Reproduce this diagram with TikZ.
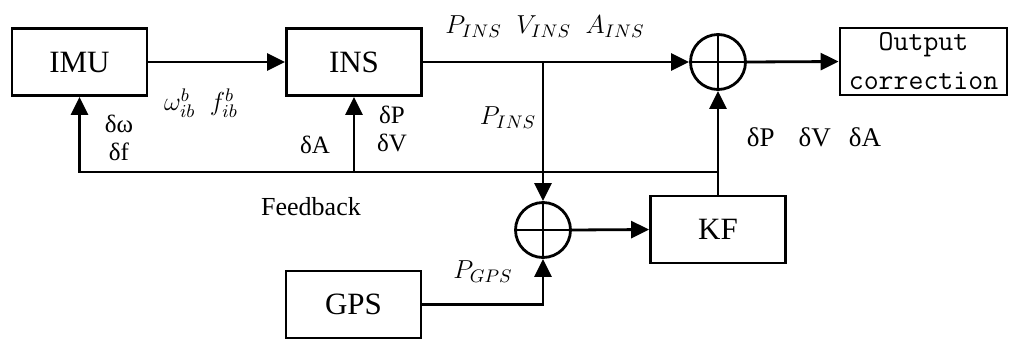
\RequirePackage{fix-cm}
\documentclass[tikz,border=0pt]{standalone}
\usepackage{fontspec}
\newfontfamily\labelfont{Liberation Serif}
\usetikzlibrary{arrows.meta, positioning, calc}
\tikzset{
    block/.style = {rectangle, minimum width=67.5pt, minimum height=33.5pt, inner sep=0pt, align=center, draw=black, line width=1.4pt, font=\labelfont\fontsize{15.5}{18}\selectfont},
    sumnode/.style = {circle, minimum size=27.5pt, inner sep=0pt, draw=black, line width=1.4pt},
    arrow/.style = {line width=1.4pt, -{Triangle[length=9pt, width=8.5pt]}},
    wire/.style = {line width=1.4pt},
    lbl/.style = {inner sep=0pt, align=center, font=\labelfont\fontsize{12.5}{14}\selectfont},
    mathlbl/.style = {inner sep=0pt, font=\fontsize{13}{15}\selectfont}
}
\begin{document}
\begin{tikzpicture}[x=0.5pt, y=-0.5pt]
\useasboundingbox (0,0) rectangle (1010,338);

% ---- Blocks ----
\node[block] (imu) at (79.5,62) {IMU};
\node[block] (ins) at (354,62) {INS};
\node[block, minimum width=83.5pt, font=\ttfamily\fontsize{14.5}{19.5}\selectfont] (out) at (923.5,61.5) {Output\\correction};
\node[block] (kf) at (718,229.5) {KF};
\node[block] (gps) at (353.5,304.5) {GPS};

% ---- Summing junctions ----
\node[sumnode] (sum1) at (718,62) {};
\node[sumnode] (sum2) at (543,230) {};
\draw[wire] (sum1.north) -- (sum1.south) (sum1.west) -- (sum1.east);
\draw[wire] (sum2.north) -- (sum2.south) (sum2.west) -- (sum2.east);

% ---- Helper points ----
\coordinate (branch) at (sum2.north |- ins.east);
\coordinate (fb) at (718,172);

% ---- Arrows ----
\draw[arrow] (imu.east) -- (ins.west);
\draw[arrow] (ins.east) -- (sum1.west);
\draw[arrow] (sum1.east) -- (out.west);
\draw[arrow] (branch) -- (sum2.north);
\draw[arrow] (sum2.east) -- (kf.west);
\draw[arrow] (gps.east) -| (sum2.south);
\draw[arrow] (kf.north) -- (sum1.south);
\draw[arrow] (fb) -| (imu.south);
\draw[arrow] (ins.south |- fb) -- (ins.south);

% ---- Labels ----
\node[mathlbl] (wf) at (201,103) {$\omega_{ib}^{b}\;\; f_{ib}^{b}$};
\node[mathlbl] (pva) at (545,27) {$P_{INS}\;\; V_{INS}\;\; A_{INS}$};
\node[mathlbl] (pins) at (508,118) {$P_{INS}$};
\node[mathlbl] (pgps) at (483,272) {$P_{GPS}$};
\node[lbl] (dwf) at (119,138) {δω\\δf};
\node[lbl] (da) at (315,145) {δA};
\node[lbl] (dpv) at (392,129) {δP\\δV};
\node[lbl, font=\labelfont\fontsize{13.5}{15}\selectfont] (dpva) at (814,137) {δP\hspace{12pt}δV\hspace{9pt}δA};
\node[lbl, font=\labelfont\fontsize{13}{15}\selectfont] (fblbl) at (311,207) {Feedback};

\end{tikzpicture}
\end{document}
